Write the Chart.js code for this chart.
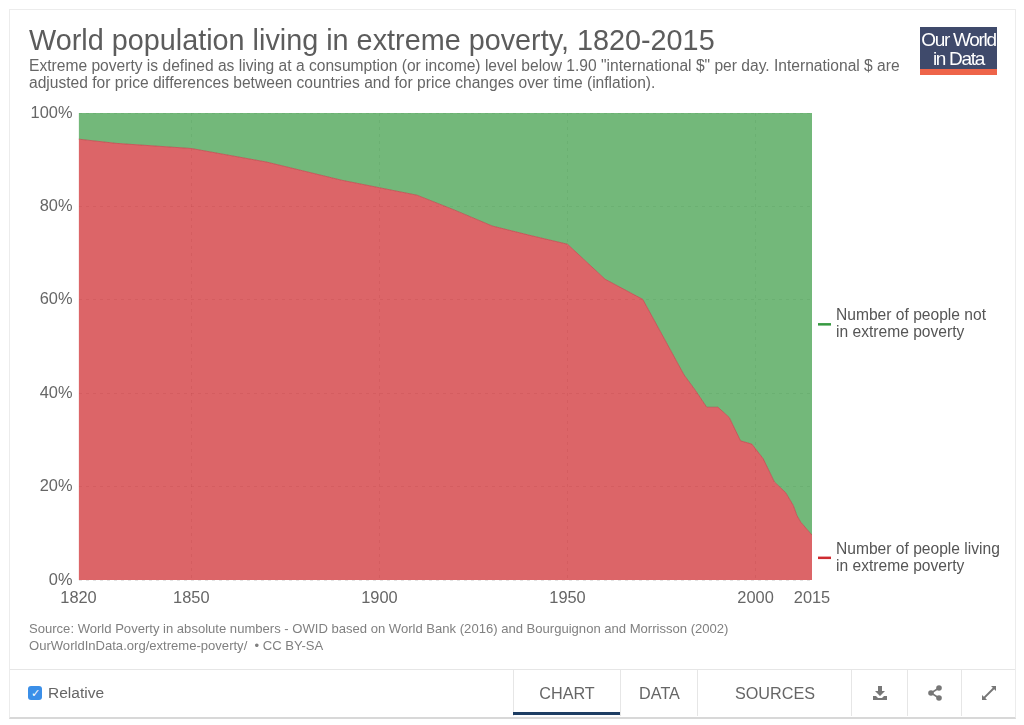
<!DOCTYPE html>
<html>
<head>
<meta charset="utf-8">
<title>World population living in extreme poverty, 1820-2015</title>
<script src="https://cdn.jsdelivr.net/npm/chart.js@4"></script>
<style>
html, body { margin: 0; padding: 0; background: #fff; }
body { width: 1024px; height: 725px; position: relative; overflow: hidden; font-family: "Liberation Sans", sans-serif; }
#card { position: absolute; left: 9px; top: 9px; width: 1005px; height: 707px; border: 1px solid #ececec; border-bottom: 2px solid #d8d8d8; box-sizing: content-box; }
#chartBox { position: absolute; left: 0; top: 0; width: 1024px; height: 725px; }
.abs { position: absolute; white-space: nowrap; }
#title { left: 29px; top: 24px; font-size: 28.8px; line-height: 32px; color: #5c5c5c; }
#sub { left: 29px; top: 57px; font-size: 15.6px; line-height: 17px; color: #666; }
#logo { left: 920px; top: 27px; width: 77px; height: 48px; background: #3f4a6b; color: #fff; text-align: center; font-size: 19px; line-height: 19px; letter-spacing: -1.3px; }
#logo div { padding-top: 3px; }
#logo i { position: absolute; left: 0; bottom: 0; width: 77px; height: 6px; background: #ee6449; }
#source { left: 29px; top: 620px; font-size: 13.07px; line-height: 17px; color: #808080; }
#footLine { left: 10px; top: 669px; width: 1005px; height: 1px; background: #e6e6e6; }
#check { left: 28px; top: 686px; width: 14px; height: 14px; border-radius: 3px; background: #3b8fe8; color: #fff; font-size: 11px; line-height: 14px; text-align: center; }
#relative { left: 48px; top: 684px; font-size: 15.5px; line-height: 17px; color: #666; }
.tab { top: 670px; height: 46px; line-height: 47px; text-align: center; font-size: 16.2px; color: #666; border-left: 1px solid #e6e6e6; box-sizing: border-box; }
#tabOn { position: absolute; left: 513px; top: 712px; width: 107px; height: 3px; background: #1d3d63; }
.tab svg { vertical-align: middle; margin-top: -3px; }
</style>
</head>
<body>
<div id="chartBox"><canvas id="povertyChart" width="1024" height="725"></canvas></div>
<div id="card"></div>
<div class="abs" id="title">World population living in extreme poverty, 1820-2015</div>
<div class="abs" id="sub">Extreme poverty is defined as living at a consumption (or income) level below 1.90 "international $" per day. International $ are<br>adjusted for price differences between countries and for price changes over time (inflation).</div>
<div class="abs" id="logo"><div>Our World<br>in Data</div><i></i></div>
<div class="abs" id="source">Source: World Poverty in absolute numbers - OWID based on World Bank (2016) and Bourguignon and Morrisson (2002)<br>OurWorldInData.org/extreme-poverty/ &nbsp;• CC BY-SA</div>
<div class="abs" id="footLine"></div>
<div class="abs" id="check">✓</div>
<div class="abs" id="relative">Relative</div>
<div class="abs tab" style="left:513px;width:107px">CHART</div>
<div class="abs tab" style="left:620px;width:78px">DATA</div>
<div class="abs tab" style="left:697px;width:155px">SOURCES</div>
<div class="abs tab" style="left:851px;width:56px"><svg width="16" height="16" viewBox="0 0 16 16"><path fill="#777" d="M6 1h4v5h3l-5 5-5-5h3zM1 11h3l2 2h4l2-2h3v4H1z"/></svg></div>
<div class="abs tab" style="left:907px;width:54px"><svg width="16" height="16" viewBox="0 0 16 16"><g fill="#777"><circle cx="12" cy="3" r="2.8"/><circle cx="12" cy="13" r="2.8"/><circle cx="4" cy="8" r="2.8"/></g><path stroke="#777" stroke-width="1.6" d="M12 3L4 8l8 5" fill="none"/></svg></div>
<div class="abs tab" style="left:961px;width:54px"><svg width="16" height="16" viewBox="0 0 16 16"><path fill="#777" d="M10 1h5v5l-1.8-1.8-8.9 8.9L6 15H1v-5l1.9 1.7 8.9-8.9z"/></svg></div>
<div id="tabOn"></div>
<script>
const years = [1820, 1830, 1850, 1870, 1890, 1900, 1910, 1920, 1930, 1940, 1950, 1960, 1970, 1981, 1984, 1987, 1990, 1993, 1996, 1999, 2002, 2005, 2008, 2010, 2011, 2012, 2015];
const inPoverty = [94.4, 93.5, 92.4, 89.5, 85.6, 84.0, 82.4, 79.2, 75.8, 73.8, 71.9, 64.4, 60.1, 43.9, 40.6, 37.0, 37.0, 34.8, 29.8, 29.1, 26.0, 21.0, 18.7, 16.0, 13.8, 12.4, 9.6];
const notInPoverty = [5.6, 6.5, 7.6, 10.5, 14.4, 16.0, 17.6, 20.8, 24.2, 26.2, 28.1, 35.6, 39.9, 56.1, 59.4, 63.0, 63.0, 65.2, 70.2, 70.9, 74.0, 79.0, 81.3, 84.0, 86.2, 87.6, 90.4];
const xTicks = [1820, 1850, 1900, 1950, 2000, 2015];
const yTicks = [0, 20, 40, 60, 80, 100];

const toPoints = (values) => values.map((v, i) => ({ x: years[i], y: v }));

// Labels right of the plot, at the middle of each band's last value
const endLabels = {
    id: "endLabels",
    afterDraw(chart) {
        const c = chart.ctx;
        const area = chart.chartArea;
        const yScale = chart.scales.y;
        let base = 0;
        chart.data.datasets.forEach((ds) => {
            const last = ds.data[ds.data.length - 1].y;
            const mid = yScale.getPixelForValue(base + last / 2);
            base += last;
            c.save();
            c.fillStyle = ds.legendColor;
            c.fillRect(area.right + 6, mid - 1, 13, 2.5);
            c.fillStyle = "#555";
            c.font = '15.6px "Liberation Sans"';
            c.textBaseline = "middle";
            ds.label.forEach((line, i) => c.fillText(line, area.right + 24, mid - 8 + i * 17));
            c.restore();
        });
    },
};

const gridColor = "rgba(0, 0, 0, 0.11)";

const ctx = document.getElementById("povertyChart").getContext("2d");
new Chart(ctx, {
    type: "line",
    data: {
        datasets: [
            {
                label: ["Number of people living", "in extreme poverty"],
                data: toPoints(inPoverty),
                borderColor: "rgba(190, 70, 75, 0.7)",
                backgroundColor: "rgba(205, 35, 40, 0.7)",
                legendColor: "#ce2b30",
                borderWidth: 1,
                pointRadius: 0,
                tension: 0,
                fill: "origin",
            },
            {
                label: ["Number of people not", "in extreme poverty"],
                data: toPoints(notInPoverty),
                borderColor: "rgba(55, 154, 65, 0)",
                backgroundColor: "rgba(55, 154, 65, 0.7)",
                legendColor: "#379a41",
                borderWidth: 0,
                pointRadius: 0,
                tension: 0,
                fill: "-1",
            },
        ],
    },
    options: {
        responsive: false,
        animation: false,
        layout: { padding: { top: 113, right: 212, bottom: 0, left: 0 } },
        plugins: { legend: { display: false }, tooltip: { enabled: false } },
        scales: {
            x: {
                type: "linear",
                min: 1820,
                max: 2015,
                afterBuildTicks: (axis) => { axis.ticks = xTicks.map((v) => ({ value: v })); },
                afterFit: (axis) => { axis.height = 145; },
                ticks: { color: "#666", font: { size: 16.4, family: "Liberation Sans" }, padding: 9, maxRotation: 0, autoSkip: false, callback: (v) => String(v) },
                grid: {
                    // no lines on the two outer edges of the plot
                    color: (c) => (c.tick && (c.tick.value === 1820 || c.tick.value === 2015) ? "transparent" : gridColor),
                    drawTicks: false,
                },
                border: { display: false, dash: [3, 4] },
            },
            y: {
                stacked: true,
                min: 0,
                max: 100,
                afterBuildTicks: (axis) => { axis.ticks = yTicks.map((v) => ({ value: v })); },
                afterFit: (axis) => { axis.width = 78.5; },
                ticks: { color: "#666", font: { size: 16.4, family: "Liberation Sans" }, padding: 6, callback: (v) => v + "%" },
                grid: { color: gridColor, drawTicks: false },
                border: { display: false, dash: [3, 4] },
            },
        },
    },
    plugins: [endLabels],
});
</script>
</body>
</html>
